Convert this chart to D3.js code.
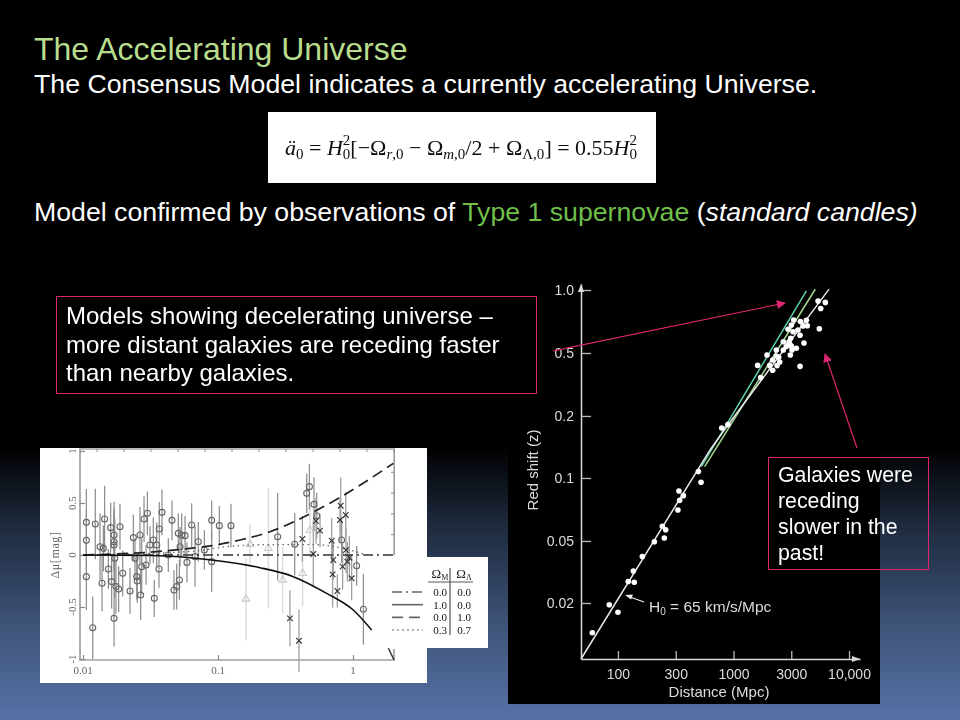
<!DOCTYPE html>
<html><head><meta charset="utf-8">
<script src="https://cdn.jsdelivr.net/npm/d3@7/dist/d3.min.js"></script>
<style>html,body{margin:0;padding:0;background:#000}svg{display:block}text{font-family:"Liberation Sans",Arial,sans-serif}</style>
</head><body><svg id="c" width="960" height="720"></svg>
<script>
// Right panel: log10(distance / Mpc), log10(redshift)
const hubbleLogD=[3.732,3.795,3.755,3.743,3.576,3.610,3.521,3.579,3.631,3.501,3.472,3.515,3.558,3.602,3.639,3.576,3.495,3.431,3.481,3.457,3.501,3.544,3.431,3.371,3.492,3.29,3.371,3.339,3.4,3.313,3.377,3.339,3.209,3.235,2.898,2.952,2.696,2.719,3.391,3.486,3.506,3.472,2.528,2.534,2.566,2.519,2.384,2.413,2.401,2.315,2.211,2.133,2.089,2.141,1.925,2,1.778];
const hubbleLogZ=[-.059,-.066,-.098,-.206,-.406,-.282,-.16,-.168,-.161,-.186,-.209,-.222,-.213,-.191,-.19,-.241,-.257,-.275,-.275,-.301,-.298,-.31,-.319,-.319,-.346,-.346,-.351,-.372,-.383,-.402,-.402,-.427,-.401,-.466,-.734,-.716,-.966,-1.023,-.358,-.287,-.319,-.293,-1.069,-1.119,-1.094,-1.17,-1.257,-1.275,-1.319,-1.339,-1.418,-1.495,-1.551,-1.555,-1.674,-1.714,-1.823];
const fitLineD=[1.68,2.797,2.952,3.827], fitLineZ=[-1.963,-.851,-.718,.005];
const modelALineD=[2.722,3.631], modelALineZ=[-.94,-.004];
const modelBLineD=[2.75,3.708], modelBLineZ=[-.94,.004];
const distTicks=[2,2.5,3,3.5,4], distLabels=["100","300","1000","3000","10,000"];
const zTicks=[0,-.335,-.67,-1,-1.335,-1.665], zLabels=["1.0","0.5","0.2","0.1","0.05","0.02"];
// Left panel: log10(z), delta mu, error half-length
const snCircleZ=[-1.975,-1.975,-1.975,-1.928,-1.909,-1.874,-1.859,-1.84,-1.849,-1.812,-1.795,-1.788,-1.77,-1.77,-1.77,-1.765,-1.77,-1.756,-1.736,-1.726,-1.706,-1.652,-1.627,-1.615,-1.602,-1.598,-1.578,-1.573,-1.565,-1.548,-1.523,-1.533,-1.504,-1.479,-1.472,-1.454,-1.435,-1.437,-1.415,-1.368,-1.341,-1.326,-1.306,-1.294,-1.281,-1.286,-1.269,-1.244,-1.23,-1.195,-1.17,-1.146,-1.101,-1.047,-1.047,-.99,-.904,-.558,-.432,-.323,-.343,-.289,-.269,-.084,.027,.077];
const snCircleMu=[.314,.141,-.208,-.699,.298,.08,-.272,.346,.064,-.135,.263,-.256,.192,.128,.096,-.032,-.609,-.304,-.327,.272,-.176,-.346,.167,-.032,-.208,-.25,.192,-.385,-.112,.346,.401,-.096,.096,.144,-.417,.096,.25,-.135,.41,0,.333,-.337,-.304,.208,.08,-.24,.192,.186,-.071,.288,-.016,.128,.048,.333,-.064,.282,.282,.176,.103,.657,.593,.487,.378,.144,-.103,-.522];
const snCircleErr=[.32,.29,.32,.30,.34,.32,.27,.32,.22,.19,.24,.26,.32,.29,.35,.38,.27,.26,.22,.22,.22,.22,.22,.19,.22,.21,.27,.24,.27,.22,.21,.19,.18,.22,.18,.22,.26,.18,.22,.16,.19,.19,.22,.19,.19,.19,.21,.19,.19,.21,.29,.19,.19,.19,.29,.19,.21,.42,.30,.22,.19,.26,.22,.22,.19,.34];
const snFaintZ=[-.793,-.763,-.627,-.521,-.373,-.319], snFaintMu=[-.423,.103,.064,-.24,-.176,.24], snFaintErr=[.40,.19,.58,.32,.32,.26];
const snCrossZ=[-.467,-.4,-.375,-.294,-.274,-.244,-.158,-.146,-.151,-.116,-.091,-.096,-.054,-.077,-.052,-.027,-.042,-.01];
const snCrossMu=[-.609,-.824,.154,.01,.327,.234,.138,-.048,-.186,-.346,.474,.337,.385,-.112,.048,-.026,-.064,-.224];
const snCrossErr=[.27,.30,.22,.32,.22,.16,.22,.19,.32,.16,.27,.22,.22,.22,.22,.21,.19,.21];
const curveSolidZ=[-2,-1.5,-1.047,-.689,-.442,-.195,.002,.138], curveSolidMu=[0,-.005,-.048,-.122,-.208,-.369,-.529,-.721];
const curveSolidTailZ=[.262,.304], curveSolidTailMu=[-.897,-1.01];
const curveDashZ=[-2,-1.479,-1.207,-1.059,-.837,-.615,-.195,.299], curveDashMu=[0,.03,.064,.087,.144,.224,.481,.881];
const curveDotZ=[-2,-1.2,-.9,-.6,-.3,0,.1], curveDotMu=[0,.035,.085,.10,.10,.04,0];
const curveDashDotZ=[-2,.3], curveDashDotMu=[0,0];
const muTicks=[1,.5,0,-.5,-1], muLabels=["1","0.5","0","-0.5","-1"];
const zAxisTicks=[-2,-1,0], zAxisLabels=["0.01","0.1","1"];
const legendM=["0.0","1.0","0.0","0.3"], legendL=["0.0","0.0","1.0","0.7"], legendDash=["10,4,2,4",null,"11,6","2,3"];

const PINK="#dc2672";
const svg=d3.select("#c");
const defs=svg.append("defs");
const g=defs.append("linearGradient").attr("id","bg").attr("x1",0).attr("y1",0).attr("x2",0).attr("y2",1);
[[0,"#000"],[.62,"#000"],[.73,"#1e2a3e"],[.87,"#3e5478"],[1,"#5872a8"]].forEach(s=>g.append("stop").attr("offset",s[0]).attr("stop-color",s[1]));
defs.append("filter").attr("id","blur").attr("x","-5%").attr("y","-5%").attr("width","110%").attr("height","110%").append("feGaussianBlur").attr("stdDeviation",.55);
defs.append("filter").attr("id","blur2").append("feGaussianBlur").attr("stdDeviation",.3);
const mk=defs.append("marker").attr("id","pinkHead").attr("viewBox","0 0 10 10").attr("refX",9).attr("refY",5).attr("markerWidth",9).attr("markerHeight",9).attr("markerUnits","userSpaceOnUse").attr("orient","auto");
mk.append("path").attr("d","M0,0L10,5L0,10Z").attr("fill",PINK);
svg.append("rect").attr("width",960).attr("height",720).attr("fill","url(#bg)");

// Heading text
const T=(x,y,s,size,fill)=>svg.append("text").attr("x",x).attr("y",y).attr("font-size",size).attr("fill",fill).text(s);
T(34,60,"The Accelerating Universe",32,"#b9dd8e");
T(34,93,"The Consensus Model indicates a currently accelerating Universe.",26.7,"#fff");
const m=T(34,221,"",26.7,"#fff");
m.append("tspan").text("Model confirmed by observations of ");
m.append("tspan").attr("fill","#6fbf4a").text("Type 1 supernovae ");
m.append("tspan").text("(");
m.append("tspan").attr("font-style","italic").text("standard candles)");

// Equation
svg.append("rect").attr("x",268).attr("y",112).attr("width",388).attr("height",71).attr("fill","#fff");
const eq=svg.append("g").attr("filter","url(#blur2)").append("text").attr("x",285).attr("y",155).attr("font-size",22).attr("fill","#111").style("font-family","'Liberation Serif',serif");
const add=(s,o={})=>{const t=eq.append("tspan").text(s);if(o.i)t.attr("font-style","italic");if(o.dy)t.attr("dy",o.dy);if(o.dx)t.attr("dx",o.dx);if(o.sz)t.attr("font-size",o.sz);return t;};
add("ä",{i:1});add("0",{dy:4,sz:15});add(" = ",{dy:-4});add("H",{i:1});add("2",{dy:-10,sz:15});add("0",{dy:14,dx:-7.5,sz:15});
add("[−Ω",{dy:-4});add("r",{i:1,dy:4,sz:15});add(",0",{sz:15});add(" − Ω",{dy:-4});add("m",{i:1,dy:4,sz:15});add(",0",{sz:15});add("/2 + Ω",{dy:-4});
add("Λ,0",{dy:4,sz:15});add("] = 0.55",{dy:-4});add("H",{i:1});add("2",{dy:-10,sz:15});add("0",{dy:14,dx:-7.5,sz:15});

// Left panel
svg.append("rect").attr("x",40).attr("y",448).attr("width",387).attr("height",235).attr("fill","#fff");
svg.append("rect").attr("x",427).attr("y",557).attr("width",61).attr("height",91).attr("fill","#fff");
const lx=d3.scaleLinear().domain([-2,0]).range([83,353]);
const ly=d3.scaleLinear().domain([1,-1]).range([451,659]);
const L=svg.append("g").attr("filter","url(#blur)");
L.append("path").attr("d",`M${lx(.305)},${ly(0)}V449H80V660H394V649`).attr("fill","none").attr("stroke","#a0a0a0").attr("stroke-width",1.7);
L.append("g").attr("transform","translate(80,0)").call(d3.axisRight(ly).tickValues(muTicks).tickSize(5).tickFormat(""))
 .call(a=>a.select(".domain").remove()).call(a=>a.selectAll("line").attr("stroke","#888").attr("stroke-width",1.2));
L.append("g").attr("transform","translate(0,660)").call(d3.axisTop(lx).tickValues(zAxisTicks).tickSize(5).tickFormat(""))
 .call(a=>a.select(".domain").remove()).call(a=>a.selectAll("line").attr("stroke","#888").attr("stroke-width",1.2));
L.append("g").attr("transform","translate(0,449)").call(d3.axisBottom(lx).tickValues(d3.range(-1.9,.31,.2)).tickSize(3).tickFormat(""))
 .call(a=>a.select(".domain").remove()).call(a=>a.selectAll("line").attr("stroke","#888"));
L.append("g").attr("transform","translate(394,0)").call(d3.axisLeft(ly).tickValues(d3.range(.2,1,.2)).tickSize(3).tickFormat(""))
 .call(a=>a.select(".domain").remove()).call(a=>a.selectAll("line").attr("stroke","#888"));
const serif="'Liberation Serif',serif";
muTicks.forEach((v,i)=>L.append("text").attr("transform",`translate(76,${ly(v)}) rotate(-90)`).attr("text-anchor","middle").attr("font-size",11).attr("fill","#666").style("font-family",serif).text(muLabels[i]));
zAxisTicks.forEach((v,i)=>L.append("text").attr("x",lx(v)).attr("y",674).attr("text-anchor","middle").attr("font-size",11).attr("fill","#666").style("font-family",serif).text(zAxisLabels[i]));
L.append("text").attr("transform",`translate(59,${ly(0)}) rotate(-90)`).attr("text-anchor","middle").attr("font-size",12).attr("letter-spacing",.6).attr("fill","#666").style("font-family",serif).text("Δμ[mag]");
// error bars + markers
const bars=(zs,mus,es,col,w)=>L.append("g").selectAll("line").data(zs).join("line")
 .attr("x1",d=>lx(d)).attr("x2",d=>lx(d)).attr("y1",(d,i)=>ly(mus[i]+es[i])).attr("y2",(d,i)=>ly(mus[i]-es[i])).attr("stroke",col).attr("stroke-width",w);
bars(snFaintZ,snFaintMu,snFaintErr,"#dcdcdc",1.5);
bars(snCircleZ,snCircleMu,snCircleErr,"#8e8e8e",1.25);
bars(snCrossZ,snCrossMu,snCrossErr,"#a0a0a0",1.3);
L.append("g").selectAll("circle").data(snCircleZ).join("circle").attr("cx",d=>lx(d)).attr("cy",(d,i)=>ly(snCircleMu[i])).attr("r",3).attr("fill","none").attr("stroke","#666").attr("stroke-width",1.1);
L.append("g").selectAll("path").data(snFaintZ).join("path").attr("transform",(d,i)=>`translate(${lx(d)},${ly(snFaintMu[i])})`).attr("d",d3.symbol(d3.symbolTriangle,24)).attr("fill","none").attr("stroke","#c8c8c8").attr("stroke-width",1.1);
L.append("g").selectAll("path").data(snCrossZ).join("path").attr("transform",(d,i)=>`translate(${lx(d)},${ly(snCrossMu[i])})`).attr("d","M-2.8,-2.8L2.8,2.8M-2.8,2.8L2.8,-2.8").attr("stroke","#333").attr("stroke-width",1.1);
const cl=d3.line().x(d=>lx(d[0])).y(d=>ly(d[1])).curve(d3.curveMonotoneX);
const cv=(zs,ms,dash,w,col)=>L.append("path").attr("d",cl(zs.map((z,i)=>[z,ms[i]]))).attr("fill","none").attr("stroke",col).attr("stroke-width",w).attr("stroke-dasharray",dash);
cv(curveDotZ,curveDotMu,"1.5,3.5",1.3,"#666");
cv(curveDashDotZ,curveDashDotMu,"10,4,2,4",1.3,"#333");
cv(curveDashZ,curveDashMu,"11,6",1.7,"#222");
cv(curveSolidZ,curveSolidMu,null,1.6,"#111");
cv(curveSolidTailZ,curveSolidTailMu,null,1.5,"#333");
// legend
const rows=d3.scaleLinear().domain([0,3]).range([592,630]);
const LG=svg.append("g").attr("filter","url(#blur2)").style("font-family",serif);
LG.append("path").attr("d","M428,582H473M450,568V635").attr("stroke","#555").attr("fill","none").attr("stroke-width",1.2);
LG.append("text").attr("x",440).attr("y",578).attr("text-anchor","middle").attr("font-size",13).attr("fill","#222").style("font-family",serif).html('Ω<tspan font-size="8" dy="2">M</tspan>');
LG.append("text").attr("x",464).attr("y",578).attr("text-anchor","middle").attr("font-size",13).attr("fill","#222").style("font-family",serif).html('Ω<tspan font-size="8" dy="2">Λ</tspan>');
legendM.forEach((s,i)=>{
 LG.append("text").attr("x",440).attr("y",rows(i)+4).attr("text-anchor","middle").attr("font-size",11).attr("fill","#111").style("font-family",serif).text(s);
 LG.append("text").attr("x",464).attr("y",rows(i)+4).attr("text-anchor","middle").attr("font-size",11).attr("fill","#111").style("font-family",serif).text(legendL[i]);
 LG.append("line").attr("x1",392).attr("x2",423).attr("y1",rows(i)).attr("y2",rows(i)).attr("stroke",i==3?"#999":"#666").attr("stroke-width",1.6).attr("stroke-dasharray",legendDash[i]);
});

// Right panel
svg.append("rect").attr("x",508).attr("y",270).attr("width",372).attr("height",434).attr("fill","#000");
const x=d3.scaleLinear().domain([1.68,4.095]).range([581,860]);
const y=d3.scaleLinear().domain([.032,-1.963]).range([284,659]);
const R=svg.append("g").attr("filter","url(#blur2)");
const INK="#dcdcdc";
const styleAxis=a=>{a.select(".domain").attr("stroke",INK).attr("stroke-width",1.5);a.selectAll(".tick line").attr("stroke","#bbb").attr("stroke-width",1.3);a.selectAll(".tick text").attr("fill",INK).attr("font-size",14).style("font-family","'Liberation Sans',sans-serif");};
R.append("g").attr("transform","translate(581,0)").call(d3.axisRight(y).tickValues(zTicks).tickSize(10).tickSizeOuter(0).tickFormat((d,i)=>zLabels[i]))
 .call(styleAxis).call(a=>a.selectAll(".tick text").attr("text-anchor","end").attr("x",-7));
R.append("g").attr("transform","translate(0,659)").call(d3.axisTop(x).tickValues(distTicks).tickSize(8).tickSizeOuter(0).tickFormat((d,i)=>distLabels[i]))
 .call(styleAxis).call(a=>a.selectAll(".tick text").attr("y",20).attr("dy",0));
R.append("path").attr("d","M581,284l-3,8h6ZM860,659l-8,-3v6Z").attr("fill",INK);
R.append("text").attr("transform","translate(538,470) rotate(-90)").attr("text-anchor","middle").attr("font-size",15).attr("fill",INK).text("Red shift (z)");
R.append("text").attr("x",719).attr("y",697).attr("text-anchor","middle").attr("font-size",15).attr("fill",INK).text("Distance (Mpc)");
const rl=d3.line().x(d=>x(d[0])).y(d=>y(d[1]));
const rp=(xs,ys,c)=>R.append("path").attr("d",rl(xs.map((v,i)=>[v,ys[i]]))).attr("fill","none").attr("stroke",c).attr("stroke-width",1.5);
rp(modelALineD,modelALineZ,"#5fd0a8");
rp(modelBLineD,modelBLineZ,"#a3d890");
rp(fitLineD,fitLineZ,"#e6e6e6");
R.append("g").selectAll("circle").data(hubbleLogD).join("circle").attr("cx",d=>x(d)).attr("cy",(d,i)=>y(hubbleLogZ[i])).attr("r",2.8).attr("fill","#fff");
const h=R.append("text").attr("x",649).attr("y",612).attr("font-size",15.5).attr("fill",INK);
h.append("tspan").text("H");h.append("tspan").attr("font-size",10).attr("dy",3).text("0");h.append("tspan").attr("dy",-3).text(" = 65 km/s/Mpc");
R.append("path").attr("d","M644,602L630,597").attr("stroke","#eee").attr("stroke-width",1.3);
R.append("path").attr("d","M625,595l8,-.5l-2,5Z").attr("fill","#eee");

// Callouts
const box=(bx,by,w,ht,lines,size,tx,ty,lh)=>{svg.append("rect").attr("x",bx).attr("y",by).attr("width",w).attr("height",ht).attr("fill","none").attr("stroke",PINK).attr("stroke-width",1);
 lines.forEach((s,i)=>T(tx,ty+i*lh,s,size,"#fff"));};
box(56.5,296.5,480,97,["Models showing decelerating universe –","more distant galaxies are receding faster","than nearby galaxies."],24,66,324,28.5);
box(768.5,457.5,160,112,["Galaxies were","receding","slower in the","past!"],21.3,778,482,26);
svg.append("path").attr("d","M553,351L785,303").attr("stroke",PINK).attr("stroke-width",1.2).attr("marker-end","url(#pinkHead)");
svg.append("path").attr("d","M857,448L825,354").attr("stroke",PINK).attr("stroke-width",1.2).attr("marker-end","url(#pinkHead)");
</script></body></html>
